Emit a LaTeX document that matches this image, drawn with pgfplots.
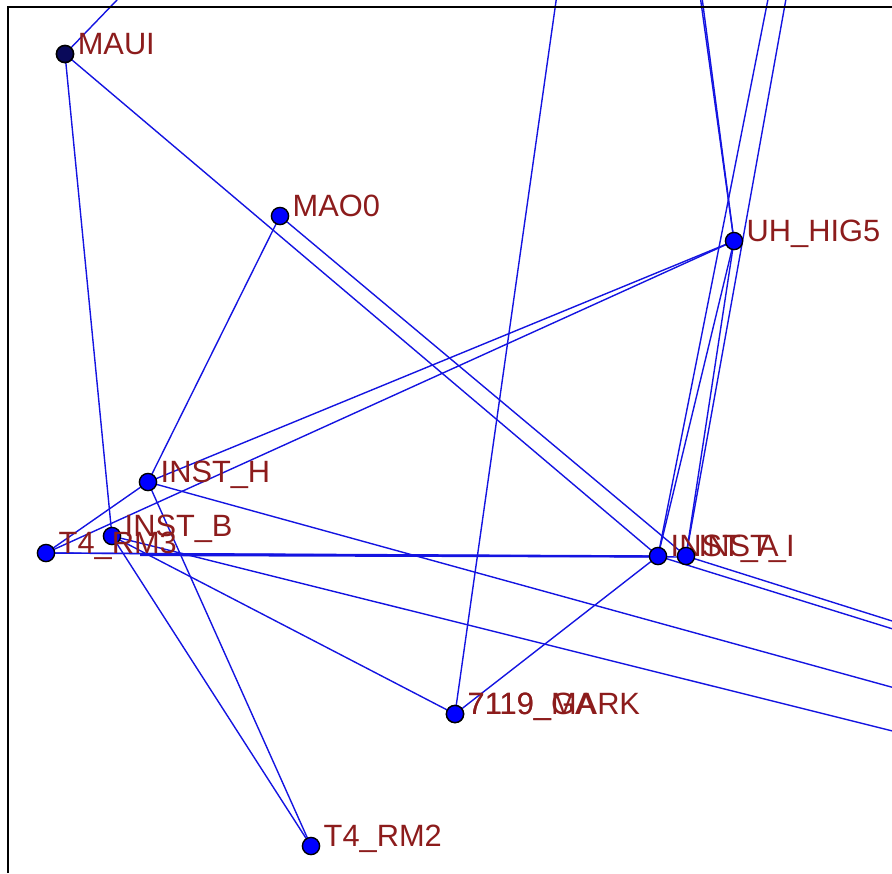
\documentclass[border=0pt]{standalone}
\usepackage{pgfplots}
\pgfplotsset{compat=1.18}
\usepackage{fontspec}
\setmainfont{Liberation Sans}
\definecolor{edgeblue}{RGB}{20,20,225}
\definecolor{labred}{RGB}{140,28,28}
\definecolor{nodeblue}{RGB}{0,0,255}
\definecolor{nodenavy}{RGB}{10,10,90}
\pgfplotsset{edge/.style={color=edgeblue, line width=0.7pt, no markers}}
\begin{document}
\begin{tikzpicture}
\begin{axis}[
  scale only axis, width=446pt, height=436.5pt,
  xmin=0, xmax=892, ymin=0, ymax=873, y dir=reverse,
  axis line style={draw=none}, ticks=none, clip=true,
]
% edges
\addplot[edge] coordinates {(65,54) (632,-535)};
\addplot[edge] coordinates {(65,54) (112,536)};
\addplot[edge] coordinates {(65,54) (658,556)};
\addplot[edge] coordinates {(280,216) (686,556)};
\addplot[edge] coordinates {(280,216) (148,482)};
\addplot[edge] coordinates {(734,241) (632,-535)};
\addplot[edge] coordinates {(734,241) (626,-540)};
\addplot[edge] coordinates {(734,241) (148,482)};
\addplot[edge] coordinates {(734,241) (46,553)};
\addplot[edge] coordinates {(734,241) (658,556)};
\addplot[edge] coordinates {(734,241) (686,556)};
\addplot[edge] coordinates {(148,482) (46,553)};
\addplot[edge] coordinates {(148,482) (311,846)};
\addplot[edge] coordinates {(148,482) (2570,1150)};
\addplot[edge] coordinates {(112,536) (311,846)};
\addplot[edge] coordinates {(112,536) (2570,1150)};
\addplot[edge] coordinates {(112,536) (455,714)};
\addplot[edge] coordinates {(46,553) (658,556)};
\addplot[edge, line width=1.1pt] coordinates {(140,555) (658,556.5)};
\addplot[edge] coordinates {(46,553) (686,557)};
\addplot[edge] coordinates {(658,556) (2570,1150)};
\addplot[edge] coordinates {(686,556) (2570,1150)};
\addplot[edge] coordinates {(658,556) (964,-993)};
\addplot[edge] coordinates {(686,556) (964,-993)};
\addplot[edge] coordinates {(455,714) (658,556)};
\addplot[edge] coordinates {(455,714) (632,-535)};
% border (left and top)
\draw[black, line width=1.1pt] (axis cs:8,873) -- (axis cs:8,7) -- (axis cs:892,7);
% nodes
\addplot[only marks, mark=*, mark size=4.3pt,
  mark options={fill=nodenavy, draw=black, line width=0.8pt, solid},
  nodes near coords, point meta=explicit symbolic,
  every node near coord/.append style={anchor=base west, xshift=6pt, yshift=0pt, inner sep=0pt,
    font=\fontsize{15.4}{18}\selectfont, text=labred}]
  coordinates {(65,54) [MAUI]};
\addplot[only marks, mark=*, mark size=4.3pt,
  mark options={fill=nodeblue, draw=black, line width=0.7pt, solid},
  nodes near coords, point meta=explicit symbolic,
  every node near coord/.append style={anchor=base west, xshift=6pt, yshift=0pt, inner sep=0pt,
    font=\fontsize{15.4}{18}\selectfont, text=labred}]
  coordinates {
    (280,216) [MAO0]
    (734,241) [UH\_HIG5]
    (148,482) [INST\_H]
    (112,536) [INST\_B]
    (46,553) [T4\_RM3]
    (658,556) [INST\_A]
    (686,556) [INST\_I]
    (455,714) [7119\_MARK]
    (455,714) [7119\_GA]
    (311,846) [T4\_RM2]
  };
\end{axis}
\end{tikzpicture}
\end{document}
